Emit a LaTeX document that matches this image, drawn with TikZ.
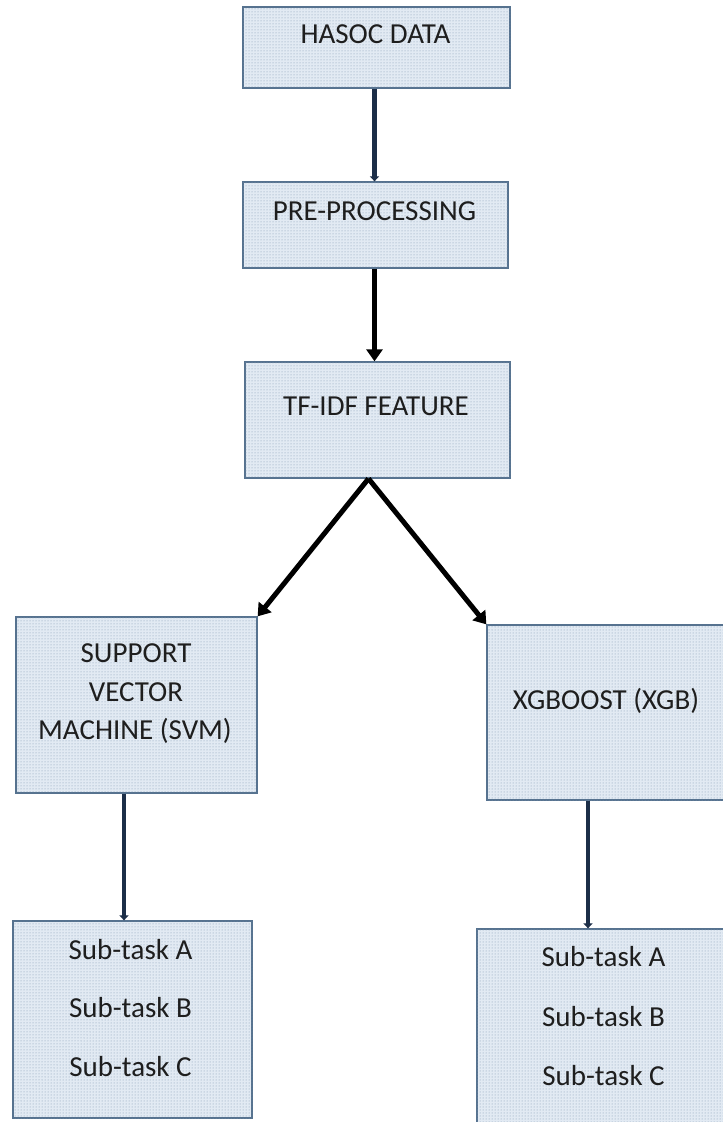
\documentclass[tikz,border=0pt]{standalone}
\usepackage{fontspec}
\setmainfont{Carlito}
\usetikzlibrary{arrows.meta,patterns}
\definecolor{boxline}{HTML}{56728F}
\definecolor{boxfill}{HTML}{E2EAF3}
\definecolor{dotcol}{HTML}{7F97B2}
\definecolor{navy}{HTML}{1C2E48}
\definecolor{ink}{HTML}{1E1E1E}
\begin{document}
\begin{tikzpicture}[x=1pt,y=-1pt,
  stepbox/.style={draw=boxline, line width=1.3pt, fill=boxfill,
    postaction={pattern=dots, pattern color=dotcol}, inner sep=0pt},
  txt/.style={text=ink, font=\fontsize{29}{35}\selectfont, anchor=base, inner sep=0pt},
  navyarrow/.style={draw=navy, line width=4.5pt, -{Triangle[length=5pt,width=9pt]}},
  blackarrow/.style={draw=black, line width=5pt, -{Triangle[length=12pt,width=16pt]}}]

\fill[white] (0,0) rectangle (723,1122);
\useasboundingbox (0,0) rectangle (723,1122);
\clip (0,0) rectangle (723,1122);

% boxes
\node[stepbox, minimum width=267pt, minimum height=81pt]  (hasoc) at (376.5,47.5) {};
\node[stepbox, minimum width=265pt, minimum height=86pt]  (pre)   at (375.5,225) {};
\node[stepbox, minimum width=265pt, minimum height=116pt] (tfidf) at (377.5,420) {};
\node[stepbox, minimum width=241pt, minimum height=176pt] (svm)   at (136.5,705) {};
\node[stepbox, minimum width=238pt, minimum height=175pt] (xgb)   at (606,712.5) {};
\node[stepbox, minimum width=239pt, minimum height=197pt] (subl)  at (132.5,1019.5) {};
\node[stepbox, minimum width=253pt, minimum height=200pt] (subr)  at (603.5,1029) {};

% labels
\node[txt] (thasoc) at (375.5,43)  {HASOC DATA};
\node[txt] (tpre)   at (374.5,220) {PRE-PROCESSING};
\node[txt] (ttf)    at (376,415)   {TF-IDF FEATURE};
\node[txt] (tsvm1)  at (136,662)   {SUPPORT};
\node[txt] (tsvm2)  at (136,701)   {VECTOR};
\node[txt] (tsvm3)  at (135,739)   {MACHINE (SVM)};
\node[txt] (txgb)   at (606,709)   {XGBOOST (XGB)};
\node[txt] (tla)    at (130.5,959)  {Sub-task A};
\node[txt] (tlb)    at (130.5,1017) {Sub-task B};
\node[txt] (tlc)    at (130.5,1076) {Sub-task C};
\node[txt] (tra)    at (603.5,966)  {Sub-task A};
\node[txt] (trb)    at (603.5,1026) {Sub-task B};
\node[txt] (trc)    at (603.5,1085) {Sub-task C};

% connectors
\draw[navyarrow] ([xshift=-2pt]hasoc.south) -- ([xshift=-2pt]hasoc.south |- pre.north);
\draw[blackarrow] ([xshift=-1pt]pre.south) -- ([xshift=-1pt]pre.south |- tfidf.north);
\draw[blackarrow] ([xshift=-9pt]tfidf.south) -- (svm.north east);
\draw[blackarrow] ([xshift=-9pt]tfidf.south) -- (xgb.north west);
\draw[navyarrow] ([xshift=-12.5pt]svm.south) -- ([xshift=-12.5pt]svm.south |- subl.north);
\draw[navyarrow] ([xshift=-18pt]xgb.south) -- ([xshift=-18pt]xgb.south |- subr.north);
\end{tikzpicture}
\end{document}
